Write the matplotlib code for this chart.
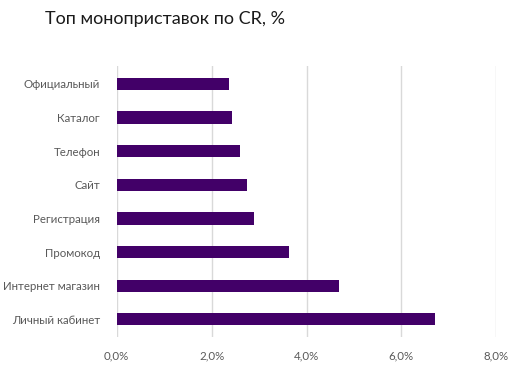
import numpy as np
import matplotlib
matplotlib.use('Agg')
import matplotlib.pyplot as plt
from matplotlib.ticker import FuncFormatter

plt.rcParams['font.family'] = ['Lato', 'DejaVu Sans']

# данные (сверху вниз)
categories = ['Официальный', 'Каталог', 'Телефон', 'Сайт', 'Регистрация',
              'Промокод', 'Интернет магазин', 'Личный кабинет']
cr_values = [2.37, 2.43, 2.60, 2.75, 2.90, 3.64, 4.69, 6.70]
x_ticks = [0, 2, 4, 6, 8]

fig = plt.figure(figsize=(5.24, 3.69), dpi=100)
ax = fig.add_axes([0.2227, 0.087, 0.7245, 0.734])

ypos = np.arange(len(categories))[::-1]
ax.barh(ypos, cr_values, height=0.36, color='#420068', zorder=3)

ax.set_xlim(0, 8)
ax.set_ylim(-0.52, len(categories) - 0.47)
ax.set_xticks(x_ticks)
ax.xaxis.set_major_formatter(FuncFormatter(lambda v, p: f'{v:.1f}%'.replace('.', ',')))
ax.set_yticks(ypos)
ax.set_yticklabels(categories)

ax.grid(axis='x', color='#d9d9d9', linewidth=1, zorder=0)
for s in ax.spines.values():
    s.set_visible(False)
ax.tick_params(axis='both', length=0, colors='#595959', labelsize=8.3)
ax.tick_params(axis='x', pad=10)
ax.tick_params(axis='y', pad=12)

fig.text(0.086, 0.948, 'Топ моноприставок по CR, %', fontsize=13,
         color='#1a1a1a', va='center', ha='left')

fig.savefig('out.png', dpi=100)
